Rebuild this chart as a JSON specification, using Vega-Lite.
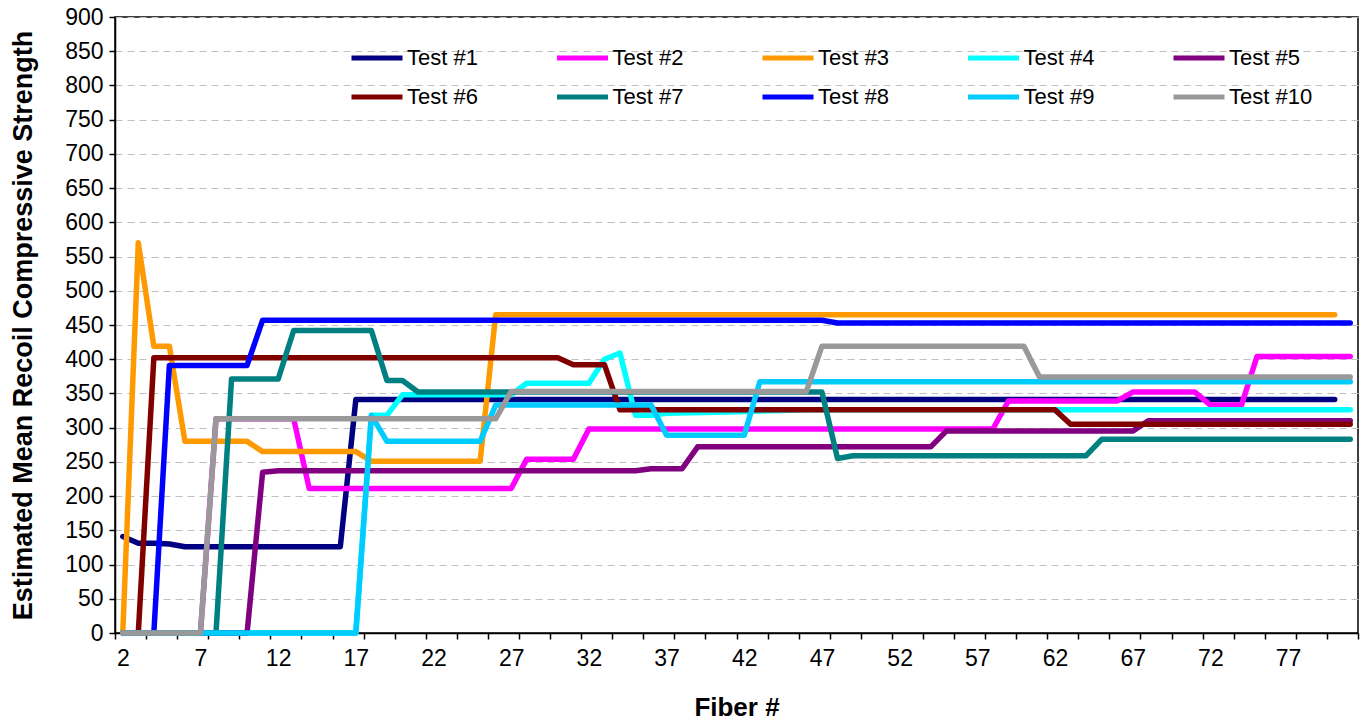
{
  "$schema": "https://vega.github.io/schema/vega-lite/v6.json",
  "width": 1243,
  "height": 616,
  "autosize": "none",
  "padding": {"left": 115, "top": 17, "right": 3, "bottom": 90},
  "background": "white",
  "config": {
    "font": "Liberation Sans",
    "view": {"stroke": "black", "strokeWidth": 1.5}
  },
  "data": {
    "values": [
      {"test": "Test #1", "fiber": 2, "strength": 141},
      {"test": "Test #1", "fiber": 3, "strength": 131},
      {"test": "Test #1", "fiber": 4, "strength": 131},
      {"test": "Test #1", "fiber": 5, "strength": 130},
      {"test": "Test #1", "fiber": 6, "strength": 126},
      {"test": "Test #1", "fiber": 16, "strength": 126},
      {"test": "Test #1", "fiber": 17, "strength": 341},
      {"test": "Test #1", "fiber": 80, "strength": 341},

      {"test": "Test #2", "fiber": 2, "strength": 0},
      {"test": "Test #2", "fiber": 7, "strength": 0},
      {"test": "Test #2", "fiber": 8, "strength": 313},
      {"test": "Test #2", "fiber": 13, "strength": 313},
      {"test": "Test #2", "fiber": 14, "strength": 211},
      {"test": "Test #2", "fiber": 27, "strength": 211},
      {"test": "Test #2", "fiber": 28, "strength": 254},
      {"test": "Test #2", "fiber": 31, "strength": 254},
      {"test": "Test #2", "fiber": 32, "strength": 298},
      {"test": "Test #2", "fiber": 58, "strength": 298},
      {"test": "Test #2", "fiber": 59, "strength": 339},
      {"test": "Test #2", "fiber": 66, "strength": 339},
      {"test": "Test #2", "fiber": 67, "strength": 352},
      {"test": "Test #2", "fiber": 71, "strength": 352},
      {"test": "Test #2", "fiber": 72, "strength": 333},
      {"test": "Test #2", "fiber": 74, "strength": 333},
      {"test": "Test #2", "fiber": 75, "strength": 404},
      {"test": "Test #2", "fiber": 81, "strength": 404},

      {"test": "Test #3", "fiber": 2, "strength": 0},
      {"test": "Test #3", "fiber": 3, "strength": 570},
      {"test": "Test #3", "fiber": 4, "strength": 419},
      {"test": "Test #3", "fiber": 5, "strength": 419},
      {"test": "Test #3", "fiber": 6, "strength": 280},
      {"test": "Test #3", "fiber": 10, "strength": 280},
      {"test": "Test #3", "fiber": 11, "strength": 265},
      {"test": "Test #3", "fiber": 17, "strength": 265},
      {"test": "Test #3", "fiber": 18, "strength": 251},
      {"test": "Test #3", "fiber": 25, "strength": 251},
      {"test": "Test #3", "fiber": 26, "strength": 465},
      {"test": "Test #3", "fiber": 80, "strength": 465},

      {"test": "Test #4", "fiber": 2, "strength": 0},
      {"test": "Test #4", "fiber": 17, "strength": 0},
      {"test": "Test #4", "fiber": 18, "strength": 318},
      {"test": "Test #4", "fiber": 19, "strength": 318},
      {"test": "Test #4", "fiber": 20, "strength": 348},
      {"test": "Test #4", "fiber": 27, "strength": 348},
      {"test": "Test #4", "fiber": 28, "strength": 365},
      {"test": "Test #4", "fiber": 32, "strength": 365},
      {"test": "Test #4", "fiber": 33, "strength": 400},
      {"test": "Test #4", "fiber": 34, "strength": 409},
      {"test": "Test #4", "fiber": 35, "strength": 318},
      {"test": "Test #4", "fiber": 36, "strength": 318},
      {"test": "Test #4", "fiber": 37, "strength": 321},
      {"test": "Test #4", "fiber": 41, "strength": 323},
      {"test": "Test #4", "fiber": 46, "strength": 326},
      {"test": "Test #4", "fiber": 81, "strength": 326},

      {"test": "Test #5", "fiber": 2, "strength": 0},
      {"test": "Test #5", "fiber": 10, "strength": 0},
      {"test": "Test #5", "fiber": 11, "strength": 235},
      {"test": "Test #5", "fiber": 12, "strength": 237},
      {"test": "Test #5", "fiber": 35, "strength": 237},
      {"test": "Test #5", "fiber": 36, "strength": 240},
      {"test": "Test #5", "fiber": 38, "strength": 240},
      {"test": "Test #5", "fiber": 39, "strength": 272},
      {"test": "Test #5", "fiber": 54, "strength": 272},
      {"test": "Test #5", "fiber": 55, "strength": 295},
      {"test": "Test #5", "fiber": 67, "strength": 295},
      {"test": "Test #5", "fiber": 68, "strength": 310},
      {"test": "Test #5", "fiber": 81, "strength": 310},

      {"test": "Test #6", "fiber": 2, "strength": 0},
      {"test": "Test #6", "fiber": 3, "strength": 0},
      {"test": "Test #6", "fiber": 4, "strength": 402},
      {"test": "Test #6", "fiber": 30, "strength": 402},
      {"test": "Test #6", "fiber": 31, "strength": 392},
      {"test": "Test #6", "fiber": 33, "strength": 392},
      {"test": "Test #6", "fiber": 34, "strength": 326},
      {"test": "Test #6", "fiber": 62, "strength": 326},
      {"test": "Test #6", "fiber": 63, "strength": 305},
      {"test": "Test #6", "fiber": 81, "strength": 305},

      {"test": "Test #7", "fiber": 2, "strength": 0},
      {"test": "Test #7", "fiber": 8, "strength": 0},
      {"test": "Test #7", "fiber": 9, "strength": 371},
      {"test": "Test #7", "fiber": 12, "strength": 371},
      {"test": "Test #7", "fiber": 13, "strength": 442},
      {"test": "Test #7", "fiber": 18, "strength": 442},
      {"test": "Test #7", "fiber": 19, "strength": 369},
      {"test": "Test #7", "fiber": 20, "strength": 369},
      {"test": "Test #7", "fiber": 21, "strength": 352},
      {"test": "Test #7", "fiber": 47, "strength": 352},
      {"test": "Test #7", "fiber": 48, "strength": 255},
      {"test": "Test #7", "fiber": 49, "strength": 259},
      {"test": "Test #7", "fiber": 64, "strength": 259},
      {"test": "Test #7", "fiber": 65, "strength": 283},
      {"test": "Test #7", "fiber": 81, "strength": 283},

      {"test": "Test #8", "fiber": 2, "strength": 0},
      {"test": "Test #8", "fiber": 4, "strength": 0},
      {"test": "Test #8", "fiber": 5, "strength": 391},
      {"test": "Test #8", "fiber": 10, "strength": 391},
      {"test": "Test #8", "fiber": 11, "strength": 457},
      {"test": "Test #8", "fiber": 47, "strength": 457},
      {"test": "Test #8", "fiber": 48, "strength": 453},
      {"test": "Test #8", "fiber": 81, "strength": 453},

      {"test": "Test #9", "fiber": 2, "strength": 0},
      {"test": "Test #9", "fiber": 17, "strength": 0},
      {"test": "Test #9", "fiber": 18, "strength": 318},
      {"test": "Test #9", "fiber": 19, "strength": 280},
      {"test": "Test #9", "fiber": 25, "strength": 280},
      {"test": "Test #9", "fiber": 26, "strength": 333},
      {"test": "Test #9", "fiber": 36, "strength": 333},
      {"test": "Test #9", "fiber": 37, "strength": 289},
      {"test": "Test #9", "fiber": 42, "strength": 289},
      {"test": "Test #9", "fiber": 43, "strength": 367},
      {"test": "Test #9", "fiber": 81, "strength": 367},

      {"test": "Test #10", "fiber": 2, "strength": 0},
      {"test": "Test #10", "fiber": 7, "strength": 0},
      {"test": "Test #10", "fiber": 8, "strength": 313},
      {"test": "Test #10", "fiber": 26, "strength": 313},
      {"test": "Test #10", "fiber": 27, "strength": 353},
      {"test": "Test #10", "fiber": 46, "strength": 353},
      {"test": "Test #10", "fiber": 47, "strength": 419},
      {"test": "Test #10", "fiber": 60, "strength": 419},
      {"test": "Test #10", "fiber": 61, "strength": 374},
      {"test": "Test #10", "fiber": 81, "strength": 374}
    ]
  },
  "mark": {"type": "line", "strokeWidth": 5.5, "strokeCap": "round", "strokeJoin": "round"},
  "encoding": {
    "x": {
      "field": "fiber",
      "type": "quantitative",
      "scale": {"domain": [1.5, 81.5], "nice": false, "zero": false},
      "axis": {
        "title": "Fiber #",
        "titleFontSize": 26,
        "titleFontWeight": "bold",
        "titleColor": "black",
        "titlePadding": 24,
        "values": [1.5, 2, 3.5, 5.5, 7, 7.5, 9.5, 11.5, 12, 13.5, 15.5, 17, 17.5, 19.5, 21.5, 22, 23.5, 25.5, 27, 27.5, 29.5, 31.5, 32, 33.5, 35.5, 37, 37.5, 39.5, 41.5, 42, 43.5, 45.5, 47, 47.5, 49.5, 51.5, 52, 53.5, 55.5, 57, 57.5, 59.5, 61.5, 62, 63.5, 65.5, 67, 67.5, 69.5, 71.5, 72, 73.5, 75.5, 77, 77.5, 79.5, 81.5],
        "labelExpr": "datum.value % 1 === 0 ? datum.label : ''",
        "labelOverlap": false,
        "labelFlush": false,
        "labelFontSize": 23,
        "labelColor": "black",
        "labelPadding": 8,
        "tickOpacity": {"condition": {"test": "datum.value % 1 === 0", "value": 0}, "value": 1},
        "tickColor": "black",
        "tickSize": 6,
        "tickWidth": 1.5,
        "domainColor": "black",
        "domainWidth": 1.5,
        "grid": false
      }
    },
    "y": {
      "field": "strength",
      "type": "quantitative",
      "scale": {"domain": [0, 900], "nice": false},
      "axis": {
        "title": "Estimated Mean Recoil Compressive Strength",
        "titleFontSize": 27,
        "titleFontWeight": "bold",
        "titleColor": "black",
        "titlePadding": 27,
        "values": [0, 50, 100, 150, 200, 250, 300, 350, 400, 450, 500, 550, 600, 650, 700, 750, 800, 850, 900],
        "labelFontSize": 23,
        "labelColor": "black",
        "labelPadding": 6,
        "labelOverlap": false,
        "tickColor": "black",
        "tickSize": 6,
        "tickWidth": 1.5,
        "domainColor": "black",
        "domainWidth": 1.5,
        "grid": true,
        "gridColor": "#c0c0c0",
        "gridDash": [7, 5],
        "gridWidth": 1
      }
    },
    "color": {
      "field": "test",
      "type": "nominal",
      "scale": {
        "domain": ["Test #1", "Test #2", "Test #3", "Test #4", "Test #5", "Test #6", "Test #7", "Test #8", "Test #9", "Test #10"],
        "range": ["#000080", "#FF00FF", "#FF9900", "#00FFFF", "#800080", "#800000", "#008080", "#0000FF", "#00CCFF", "#999999"]
      },
      "legend": {
        "orient": "none",
        "legendX": 234,
        "legendY": 13,
        "direction": "horizontal",
        "columns": 5,
        "title": null,
        "symbolType": "stroke",
        "symbolStrokeWidth": 5,
        "symbolSize": 2601,
        "labelFontSize": 22,
        "labelColor": "black",
        "labelOffset": 2,
        "labelLimit": 300,
        "columnPadding": 68.5,
        "rowPadding": -2
      }
    }
  }
}
